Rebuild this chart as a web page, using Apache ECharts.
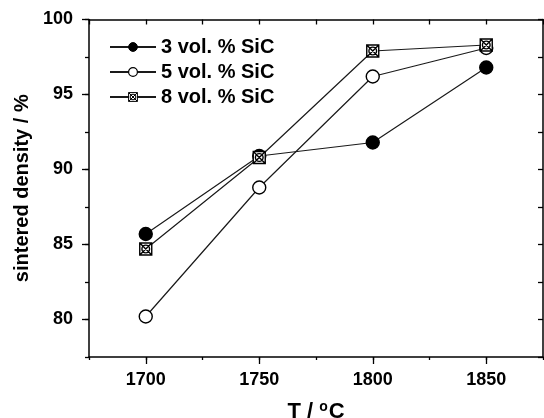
<!DOCTYPE html>
<html>
<head>
<meta charset="utf-8">
<script src="https://cdn.jsdelivr.net/npm/echarts@6/dist/echarts.min.js"></script>
<style>
  html, body { margin: 0; padding: 0; background: #fff; }
  #chart { width: 544px; height: 418px; }
</style>
</head>
<body>
<div id="chart"></div>
<script>
// Sintering temperature (°C)
const temperatures = [1700, 1750, 1800, 1850];
// Sintered density (%) per SiC content
const sic3 = [85.7, 90.9, 91.8, 96.8];
const sic5 = [80.2, 88.8, 96.2, 98.1];
const sic8 = [84.7, 90.8, 97.9, 98.3];
const seriesNames = ['3 vol. % SiC', '5 vol. % SiC', '8 vol. % SiC'];
const xMajorTicks = [1700, 1750, 1800, 1850];
const yMajorTicks = [80, 85, 90, 95, 100];

const FONT = '"Liberation Sans", Arial, Helvetica, sans-serif';
const axisLineStyle = { color: '#000', width: 1.5 };
const tickStyle = { color: '#000', width: 1.3 };

// square with a cross and an inscribed circle
const crossedBox = 'path://M0 0H10V10H0Z M0 0L10 10 M10 0L0 10 M8.2 5A3.2 3.2 0 1 1 1.8 5A3.2 3.2 0 1 1 8.2 5Z';

const pairs = (vals) => temperatures.map((t, i) => [t, vals[i]]);

const lineSeries = (name, vals, symbol, fill, size) => ({
  name: name,
  type: 'line',
  data: pairs(vals),
  xAxisIndex: 0,
  yAxisIndex: 0,
  symbol: symbol,
  symbolSize: size,
  showAllSymbol: true,
  lineStyle: { color: '#1a1a1a', width: 1.2 },
  itemStyle: { color: fill, borderColor: '#000', borderWidth: 1.4 },
  emphasis: { disabled: true }
});

const legendItems = [
  { name: seriesNames[0], itemStyle: { color: '#000', borderColor: '#000', borderWidth: 1 } },
  { name: seriesNames[1], itemStyle: { color: '#fff', borderColor: '#000', borderWidth: 1.2 } },
  { name: seriesNames[2], itemStyle: { color: '#fff', borderColor: '#000', borderWidth: 1 } }
];

const chart = echarts.init(document.getElementById('chart'), null, { renderer: 'canvas' });
chart.setOption({
  animation: false,
  backgroundColor: '#fff',
  textStyle: { fontFamily: FONT },
  grid: { left: 89, right: 1, top: 19.5, bottom: 61, containLabel: false, outerBoundsMode: 'none' },
  legend: {
    orient: 'vertical',
    left: 104,
    top: 32,
    itemWidth: 46,
    itemHeight: 11,
    itemGap: 5,
    data: legendItems,
    textStyle: { fontFamily: FONT, fontSize: 20, fontWeight: 'bold', color: '#000', lineHeight: 20 }
  },
  xAxis: [
    {
      type: 'value', position: 'bottom', min: 1675, max: 1875, interval: 25,
      axisLine: { show: true, lineStyle: axisLineStyle },
      axisTick: { show: true, inside: false, length: 3, lineStyle: tickStyle },
      axisLabel: {
        color: '#000', fontSize: 18, fontWeight: 'bold', fontFamily: FONT, margin: 14,
        formatter: (v) => (v % 50 === 0 ? String(v) : '')
      },
      splitLine: { show: false },
      name: 'T / {sup|o}C',
      nameLocation: 'middle',
      nameGap: 43,
      nameTextStyle: {
        color: '#000', fontSize: 22, fontWeight: 'bold', fontFamily: FONT,
        rich: { sup: { fontSize: 14, fontWeight: 'bold', fontFamily: FONT, color: '#000', verticalAlign: 'top', padding: [0, 1, 9, 0] } }
      }
    },
    {
      type: 'value', position: 'bottom', min: 1675, max: 1875,
      axisLine: { show: false },
      axisTick: { show: true, inside: false, length: 7, lineStyle: tickStyle, customValues: xMajorTicks },
      axisLabel: { show: false },
      splitLine: { show: false }
    },
    {
      type: 'value', position: 'top', min: 1675, max: 1875, interval: 25,
      axisLine: { show: true, lineStyle: axisLineStyle },
      axisTick: { show: true, inside: true, length: 5, lineStyle: tickStyle },
      axisLabel: { show: false },
      splitLine: { show: false }
    }
  ],
  yAxis: [
    {
      type: 'value', position: 'left', min: 77.5, max: 100, interval: 2.5,
      axisLine: { show: true, lineStyle: axisLineStyle },
      axisTick: { show: true, inside: false, length: 4, lineStyle: tickStyle },
      axisLabel: {
        color: '#000', fontSize: 18, fontWeight: 'bold', fontFamily: FONT, margin: 16,
        formatter: (v) => (v % 5 === 0 ? String(v) : '')
      },
      splitLine: { show: false },
      name: 'sintered density / %',
      nameLocation: 'middle',
      nameGap: 52,
      nameTextStyle: { color: '#000', fontSize: 20, fontWeight: 'bold', fontFamily: FONT }
    },
    {
      type: 'value', position: 'left', min: 77.5, max: 100,
      axisLine: { show: false },
      axisTick: { show: true, inside: false, length: 7, lineStyle: tickStyle, customValues: yMajorTicks },
      axisLabel: { show: false },
      splitLine: { show: false }
    },
    {
      type: 'value', position: 'right', min: 77.5, max: 100, interval: 2.5,
      axisLine: { show: true, lineStyle: axisLineStyle },
      axisTick: { show: true, inside: true, length: 5, lineStyle: tickStyle },
      axisLabel: { show: false },
      splitLine: { show: false }
    }
  ],
  series: [
    lineSeries(seriesNames[0], sic3, 'circle', '#000', 13),
    lineSeries(seriesNames[1], sic5, 'circle', '#fff', 13),
    lineSeries(seriesNames[2], sic8, crossedBox, '#fff', 12)
  ]
});
</script>
</body>
</html>
